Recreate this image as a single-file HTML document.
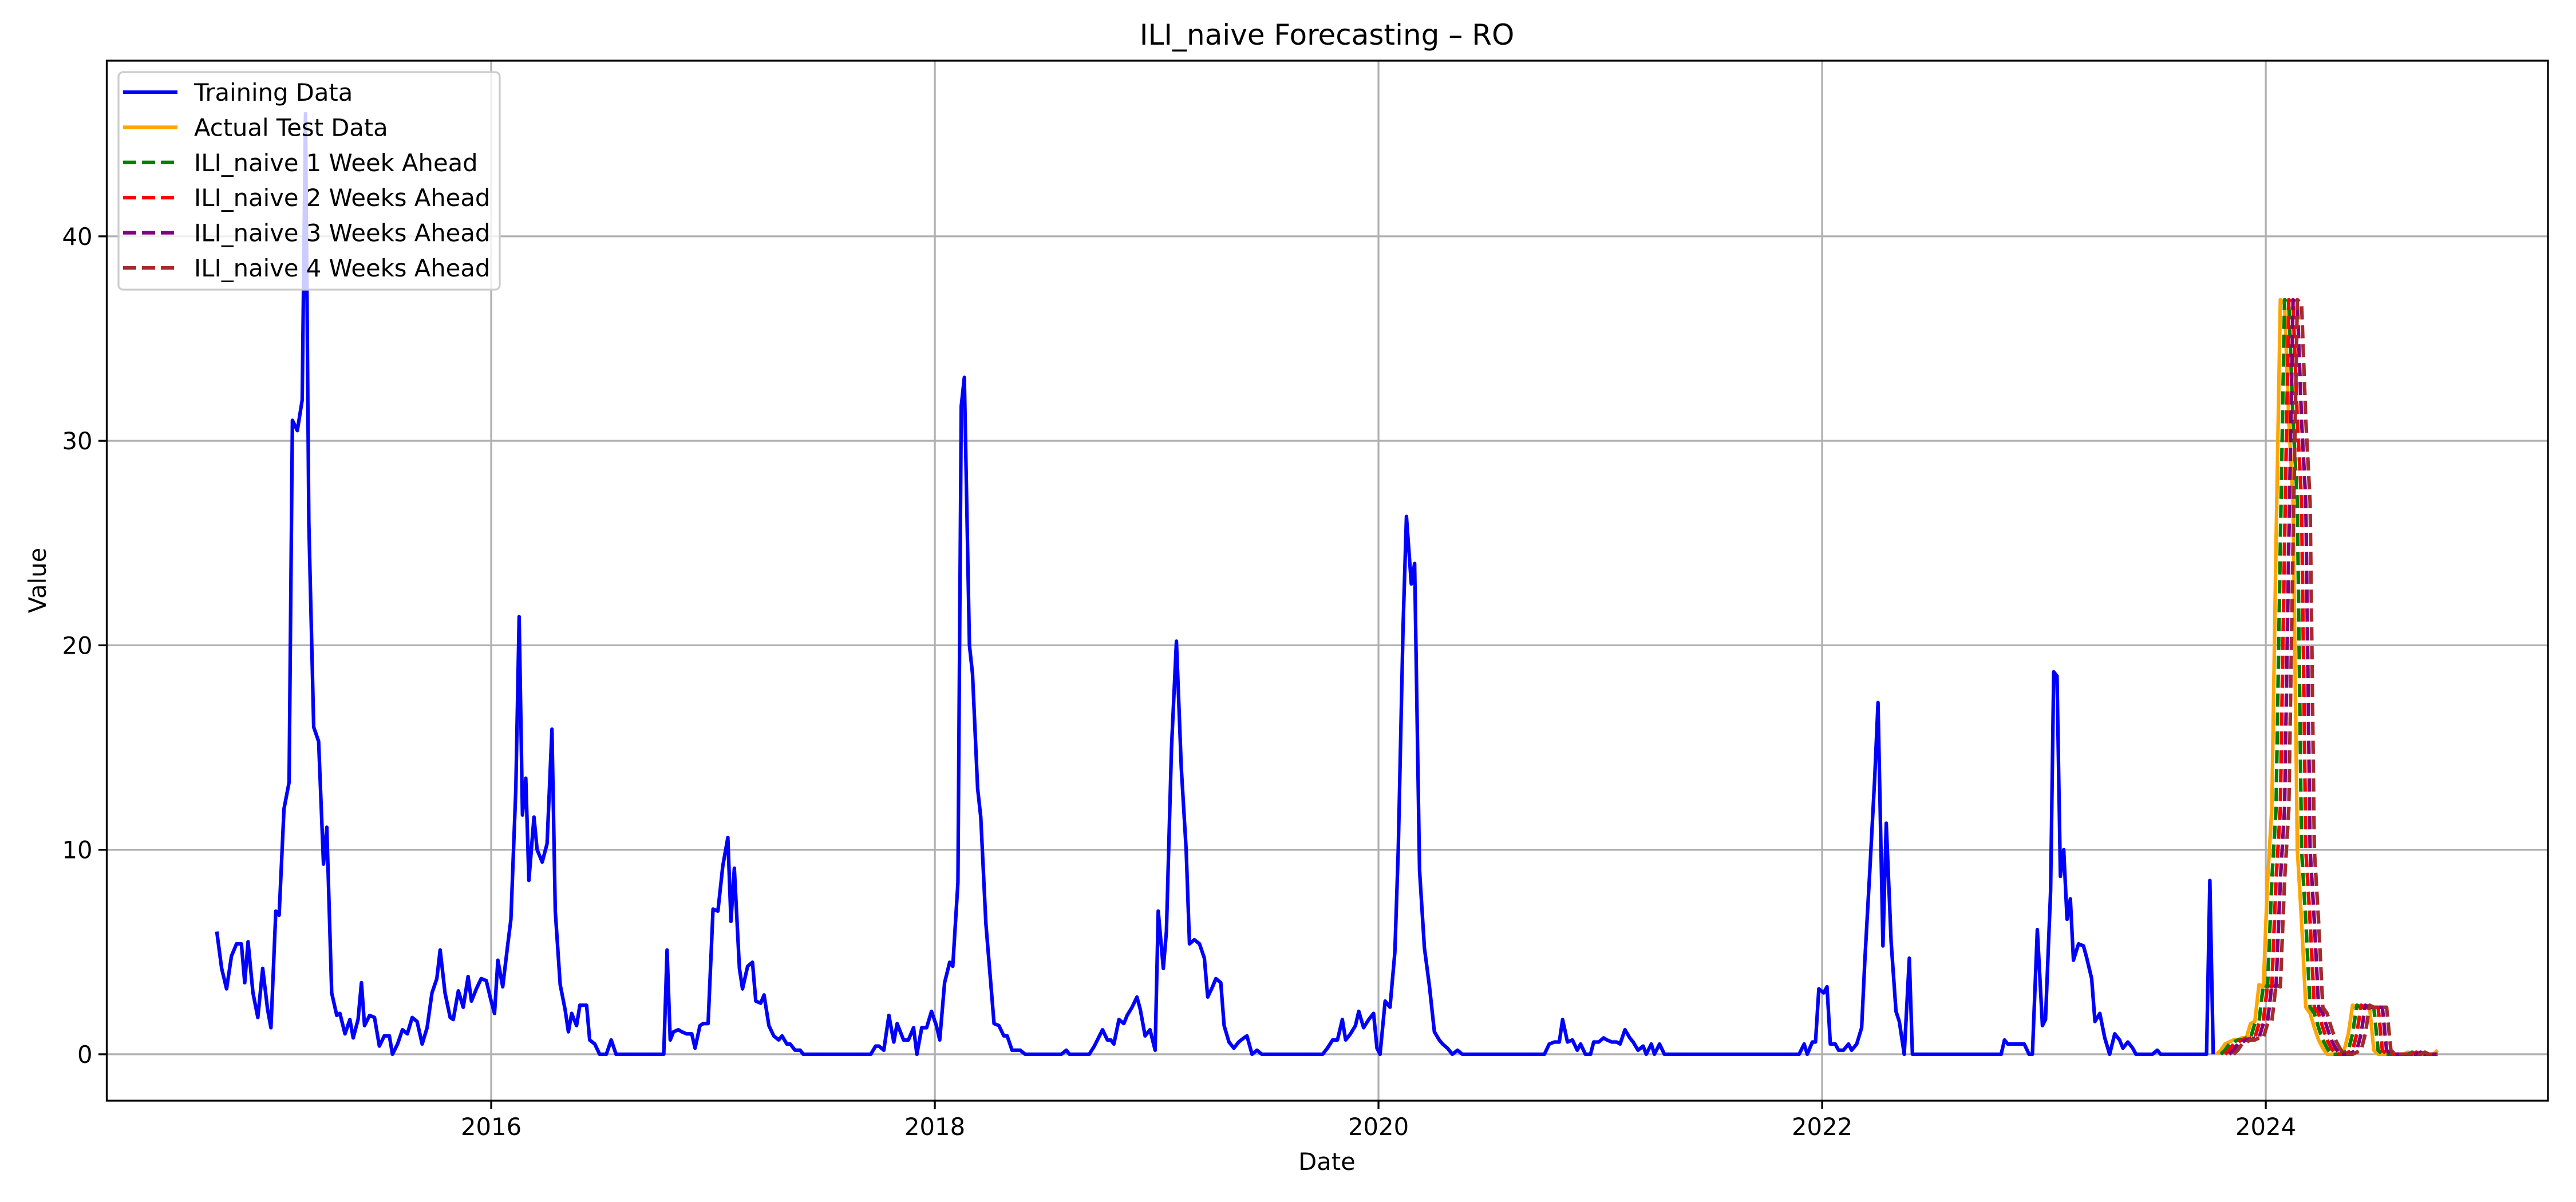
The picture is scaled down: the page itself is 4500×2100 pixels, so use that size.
<!DOCTYPE html>
<html><head><meta charset="utf-8"><title>ILI_naive Forecasting – RO</title>
<style>html,body{margin:0;padding:0;background:#fff}svg{display:block}text{font-family:"DejaVu Sans","Liberation Sans",sans-serif;fill:#000}</style>
</head><body>
<svg id="chart" width="4500" height="2100" viewBox="0 0 4500 2100" xmlns="http://www.w3.org/2000/svg">
<rect width="4500" height="2100" fill="#fff"/>
<g id="grid"></g>
<g id="series"></g>
<rect x="186.5" y="106" width="4264.5" height="1817" fill="none" stroke="#000" stroke-width="3.3"/>
<g id="ticks"></g>
<text x="2318" y="78" font-size="50" text-anchor="middle">ILI_naive Forecasting – RO</text>
<text x="2318" y="2044" font-size="41.7" text-anchor="middle">Date</text>
<text x="80" y="1014" font-size="41.7" text-anchor="middle" transform="rotate(-90 80 1014)">Value</text>
<g id="legend"></g>
</svg>
<script>
const trainDates=[2014.763,2014.785,2014.807,2014.829,2014.852,2014.874,2014.889,2014.904,2014.926,2014.948,2014.970,2014.992,2015.007,2015.029,2015.044,2015.066,2015.089,2015.104,2015.126,2015.148,2015.163,2015.178,2015.200,2015.222,2015.244,2015.259,2015.281,2015.304,2015.318,2015.341,2015.363,2015.378,2015.400,2015.415,2015.429,2015.452,2015.474,2015.496,2015.518,2015.541,2015.555,2015.578,2015.600,2015.622,2015.644,2015.666,2015.689,2015.711,2015.733,2015.755,2015.770,2015.792,2015.815,2015.829,2015.852,2015.874,2015.896,2015.911,2015.933,2015.955,2015.978,2016.000,2016.015,2016.030,2016.052,2016.074,2016.089,2016.111,2016.126,2016.141,2016.156,2016.170,2016.193,2016.207,2016.230,2016.252,2016.274,2016.289,2016.311,2016.333,2016.348,2016.363,2016.385,2016.400,2016.430,2016.444,2016.467,2016.489,2016.519,2016.541,2016.563,2016.778,2016.793,2016.807,2016.822,2016.844,2016.859,2016.881,2016.904,2016.919,2016.941,2016.956,2016.978,2017.000,2017.022,2017.044,2017.067,2017.081,2017.096,2017.119,2017.133,2017.156,2017.178,2017.193,2017.215,2017.230,2017.252,2017.274,2017.296,2017.311,2017.333,2017.348,2017.370,2017.393,2017.407,2017.711,2017.733,2017.748,2017.770,2017.793,2017.815,2017.830,2017.859,2017.881,2017.904,2017.919,2017.941,2017.963,2017.985,2018.007,2018.022,2018.044,2018.067,2018.081,2018.104,2018.119,2018.133,2018.156,2018.170,2018.193,2018.207,2018.230,2018.252,2018.267,2018.289,2018.311,2018.326,2018.348,2018.370,2018.385,2018.407,2018.570,2018.593,2018.607,2018.696,2018.719,2018.733,2018.756,2018.778,2018.793,2018.807,2018.830,2018.852,2018.867,2018.889,2018.911,2018.926,2018.948,2018.970,2018.993,2019.007,2019.030,2019.044,2019.067,2019.089,2019.111,2019.133,2019.148,2019.170,2019.193,2019.215,2019.230,2019.252,2019.267,2019.289,2019.304,2019.326,2019.348,2019.370,2019.393,2019.407,2019.430,2019.452,2019.474,2019.748,2019.770,2019.793,2019.815,2019.837,2019.852,2019.874,2019.896,2019.911,2019.933,2019.956,2019.978,2019.993,2020.007,2020.030,2020.052,2020.074,2020.089,2020.111,2020.126,2020.148,2020.163,2020.185,2020.207,2020.230,2020.252,2020.274,2020.289,2020.311,2020.333,2020.356,2020.378,2020.748,2020.770,2020.793,2020.815,2020.830,2020.852,2020.874,2020.896,2020.911,2020.933,2020.956,2020.970,2020.993,2021.015,2021.030,2021.052,2021.074,2021.089,2021.111,2021.133,2021.148,2021.170,2021.193,2021.207,2021.230,2021.244,2021.267,2021.289,2021.896,2021.919,2021.933,2021.956,2021.970,2021.985,2022.007,2022.022,2022.037,2022.059,2022.074,2022.096,2022.119,2022.133,2022.156,2022.178,2022.193,2022.215,2022.237,2022.252,2022.274,2022.289,2022.311,2022.333,2022.348,2022.370,2022.393,2022.407,2022.807,2022.822,2022.837,2022.859,2022.911,2022.933,2022.948,2022.970,2022.993,2023.007,2023.030,2023.044,2023.059,2023.074,2023.089,2023.104,2023.119,2023.133,2023.156,2023.178,2023.193,2023.215,2023.230,2023.252,2023.274,2023.296,2023.319,2023.341,2023.356,2023.378,2023.400,2023.415,2023.489,2023.511,2023.526,2023.733,2023.748,2023.763];
const trainValues=[6,4.2,3.2,4.8,5.4,5.4,3.5,5.5,3,1.8,4.2,2.2,1.3,7,6.8,12,13.3,31,30.5,32,46,26,16,15.3,9.3,11.1,3,1.9,2,1,1.7,0.8,1.7,3.5,1.4,1.9,1.8,0.4,0.9,0.9,0,0.5,1.2,1,1.8,1.6,0.5,1.3,3,3.7,5.1,3,1.8,1.7,3.1,2.3,3.8,2.6,3.2,3.7,3.6,2.6,2,4.6,3.3,5.3,6.6,13,21.4,11.7,13.5,8.5,11.6,10,9.4,10.3,15.9,7,3.4,2.2,1.1,2,1.4,2.4,2.4,0.7,0.5,0,0,0.7,0,0,5.1,0.7,1.1,1.2,1.1,1,1,0.3,1.4,1.5,1.5,7.1,7,9.2,10.6,6.5,9.1,4.2,3.2,4.3,4.5,2.6,2.5,2.9,1.4,0.9,0.7,0.9,0.5,0.5,0.2,0.2,0,0,0.4,0.4,0.2,1.9,0.6,1.5,0.7,0.7,1.3,0,1.3,1.3,2.1,1.4,0.7,3.5,4.5,4.3,8.4,31.7,33.1,20,18.6,13,11.6,6.4,3.5,1.5,1.4,0.9,0.9,0.2,0.2,0.2,0,0,0.2,0,0,0.4,0.7,1.2,0.7,0.7,0.5,1.7,1.5,1.9,2.3,2.8,2.2,0.9,1.2,0.2,7,4.2,6,15,20.2,14,10,5.4,5.6,5.4,4.7,2.8,3.3,3.7,3.5,1.4,0.6,0.3,0.6,0.8,0.9,0,0.2,0,0,0.3,0.7,0.7,1.7,0.7,1,1.4,2.1,1.3,1.7,2,0.3,0,2.6,2.3,5,10,21,26.3,23,24,9,5.2,3.3,1.1,0.7,0.5,0.3,0,0.2,0,0,0.5,0.6,0.6,1.7,0.6,0.7,0.2,0.5,0,0,0.6,0.6,0.8,0.7,0.6,0.6,0.5,1.2,0.8,0.6,0.2,0.4,0,0.5,0,0.5,0,0,0.5,0,0.6,0.6,3.2,3,3.3,0.5,0.5,0.2,0.2,0.5,0.2,0.5,1.3,4.7,9,13.5,17.2,5.3,11.3,5.5,2.1,1.6,0,4.7,0,0,0.7,0.5,0.5,0.5,0,0,6.1,1.4,1.7,8,18.7,18.5,8.7,10,6.6,7.6,4.6,5.4,5.3,4.7,3.7,1.6,2,0.8,0,1,0.7,0.3,0.6,0.3,0,0,0.2,0,0,8.5,0];
const testStart=2023.778, weekStep=0.019165;
const testValues=[0,0.2,0.5,0.6,0.7,0.7,0.8,0.8,1.5,1.6,3.4,3.3,8.5,12,25,36.9,36.7,31,27,10,6.5,2.3,2.0,1.3,0.7,0.3,0,0,0,0.1,0.2,1.0,2.4,2.3,2.3,2.3,2.3,0.2,0,0,0,0,0,0,0,0.1,0,0,0,0,0,0,0.2];
const fc1=[null,0,0.2,0.5,0.6,0.7,0.7,0.8,0.8,1.5,1.6,3.4,3.3,8.5,12,25,36.9,36.7,31,27,10,6.5,2.3,2.0,1.3,0.7,0.3,0,0,0,0.1,0.2,1.0,2.4,2.3,2.3,2.3,2.3,0.2,0,0,0,0,0,0,0,0.1,0,0,0,0,0,0];
const fc2=[null,null,0,0.2,0.5,0.6,0.7,0.7,0.8,0.8,1.5,1.6,3.4,3.3,8.5,12,25,36.9,36.7,31,27,10,6.5,2.3,2.0,1.3,0.7,0.3,0,0,0,0.1,0.2,1.0,2.4,2.3,2.3,2.3,2.3,0.2,0,0,0,0,0,0,0,0.1,0,0,0,0,0];
const fc3=[null,null,null,0,0.2,0.5,0.6,0.7,0.7,0.8,0.8,1.5,1.6,3.4,3.3,8.5,12,25,36.9,36.7,31,27,10,6.5,2.3,2.0,1.3,0.7,0.3,0,0,0,0.1,0.2,1.0,2.4,2.3,2.3,2.3,2.3,0.2,0,0,0,0,0,0,0,0.1,0,0,0,0];
const fc4=[null,null,null,null,0,0.2,0.5,0.6,0.7,0.7,0.8,0.8,1.5,1.6,3.4,3.3,8.5,12,25,36.9,36.7,31,27,10,6.5,2.3,2.0,1.3,0.7,0.3,0,0,0,0.1,0.2,1.0,2.4,2.3,2.3,2.3,2.3,0.2,0,0,0,0,0,0,0,0.1,0,0,0];
const xTickYears=[2016,2018,2020,2022,2024];
const yTickValues=[0,10,20,30,40];
const legendLabels=["Training Data","Actual Test Data","ILI_naive 1 Week Ahead","ILI_naive 2 Weeks Ahead","ILI_naive 3 Weeks Ahead","ILI_naive 4 Weeks Ahead"];

const NS="http://www.w3.org/2000/svg";
const L=186.5,R=4451,T=106,B=1923;
const xMin=2014.267,xMax=2025.272,yMin=-2.27,yMax=48.59;
const xs=v=>L+(v-xMin)/(xMax-xMin)*(R-L);
const ys=v=>B-(v-yMin)/(yMax-yMin)*(B-T);
function mk(tag,attrs,parent){const e=document.createElementNS(NS,tag);for(const k in attrs)e.setAttribute(k,attrs[k]);parent.appendChild(e);return e;}
const grid=document.getElementById('grid'),ticks=document.getElementById('ticks'),series=document.getElementById('series'),legend=document.getElementById('legend');
xTickYears.forEach(yr=>{const x=xs(yr);
 const g=mk('line',{x1:x,x2:x,y1:T,y2:B,stroke:'#b0b0b0','stroke-width':3.3},grid);
 
 
 const t=mk('line',{x1:x,x2:x,y1:B,y2:B+14.6,stroke:'#000','stroke-width':3.3},ticks);
 
 
 const l=mk('text',{x:x,y:B+60,'font-size':41.7,'text-anchor':'middle'},ticks);l.textContent=yr;
 
 });
yTickValues.forEach(v=>{const y=ys(v);
 const g=mk('line',{x1:L,x2:R,y1:y,y2:y,stroke:'#b0b0b0','stroke-width':3.3},grid);
 
 
 const t=mk('line',{x1:L-14.6,x2:L,y1:y,y2:y,stroke:'#000','stroke-width':3.3},ticks);
 
 
 const l=mk('text',{x:L-25,y:y+15,'font-size':41.7,'text-anchor':'end'},ticks);l.textContent=v;
 
 });
function path(dates,vals,color,dash,name){let d='';let started=false;
 for(let i=0;i<vals.length;i++){if(vals[i]==null)continue;d+=(started?'L':'M')+xs(dates[i]).toFixed(1)+','+ys(vals[i]).toFixed(1);started=true;}
 const p=mk('path',{d:d,fill:'none',stroke:color,'stroke-width':6.25,'stroke-linejoin':'round'},series);
 if(dash)p.setAttribute('stroke-dasharray','23 10');
 
 }
const testDates=testValues.map((_,i)=>testStart+i*weekStep);
path(trainDates,trainValues,'#0000ff',false,'training-data-line');
path(testDates,testValues,'#ffa500',false,'actual-test-line');
path(testDates,fc1,'#008000',true,'forecast-1-week-line');
path(testDates,fc2,'#ff0000',true,'forecast-2-weeks-line');
path(testDates,fc3,'#800080',true,'forecast-3-weeks-line');
path(testDates,fc4,'#a52a2a',true,'forecast-4-weeks-line');
const lb=mk('rect',{x:207,y:126,width:666,height:380,rx:8,fill:'#fff','fill-opacity':0.8,stroke:'#ccc','stroke-width':3.3},legend);


const lColors=['#0000ff','#ffa500','#008000','#ff0000','#800080','#a52a2a'];
legendLabels.forEach((lab,i)=>{const y=161+i*61.4;
 const ln=mk('line',{x1:215,x2:310,y1:y,y2:y,stroke:lColors[i],'stroke-width':6.25},legend);
 if(i>1)ln.setAttribute('stroke-dasharray','23 10');
 
 
 const t=mk('text',{x:339,y:y+15,'font-size':41.7},legend);t.textContent=lab;
 
 });
</script>
</body></html>
